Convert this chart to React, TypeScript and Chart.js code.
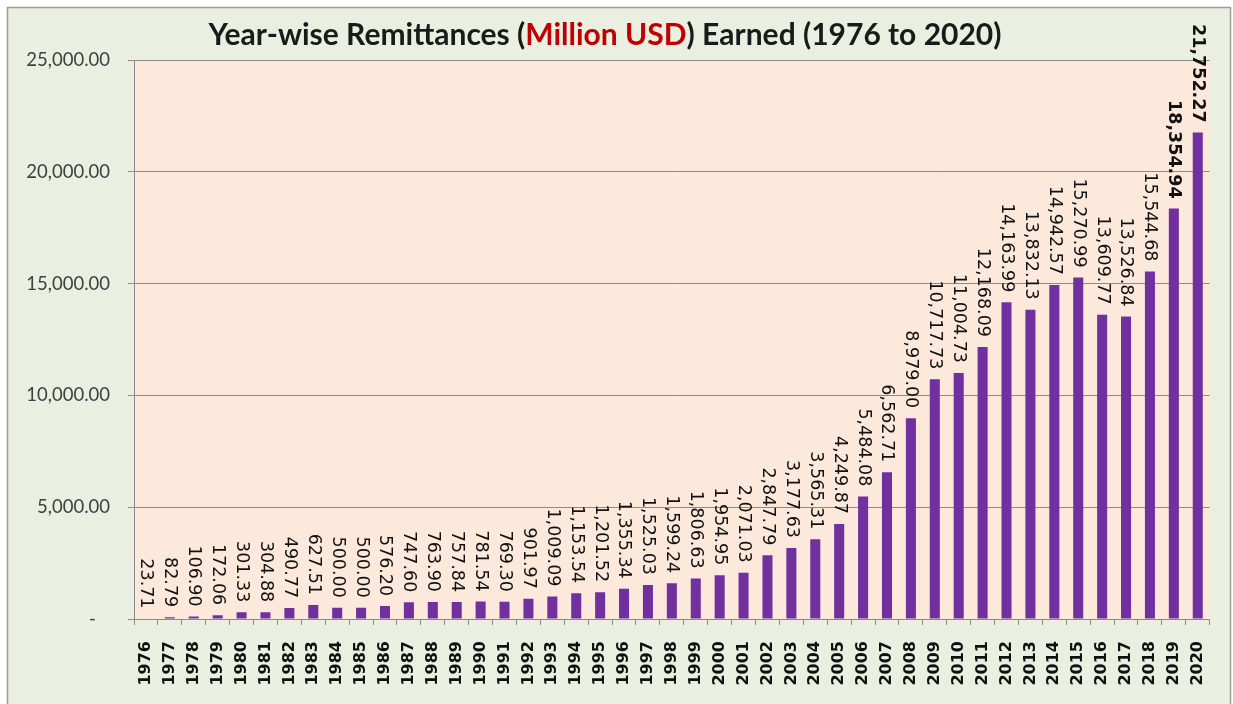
import { useEffect, useRef } from "react";
import { Chart, registerables } from "chart.js";

Chart.register(...registerables);

// Year-wise remittances earned, million USD
const years = [
  "1976", "1977", "1978", "1979", "1980", "1981", "1982", "1983", "1984", "1985",
  "1986", "1987", "1988", "1989", "1990", "1991", "1992", "1993", "1994", "1995",
  "1996", "1997", "1998", "1999", "2000", "2001", "2002", "2003", "2004", "2005",
  "2006", "2007", "2008", "2009", "2010", "2011", "2012", "2013", "2014", "2015",
  "2016", "2017", "2018", "2019", "2020",
];

const remittances = [
  23.71, 82.79, 106.9, 172.06, 301.33, 304.88, 490.77, 627.51, 500.0, 500.0,
  576.2, 747.6, 763.9, 757.84, 781.54, 769.3, 901.97, 1009.09, 1153.54, 1201.52,
  1355.34, 1525.03, 1599.24, 1806.63, 1954.95, 2071.03, 2847.79, 3177.63, 3565.31, 4249.87,
  5484.08, 6562.71, 8979.0, 10717.73, 11004.73, 12168.09, 14163.99, 13832.13, 14942.57, 15270.99,
  13609.77, 13526.84, 15544.68, 18354.94, 21752.27,
];

// Years whose value labels are set in bold
const boldYears = ["2019", "2020"];

const yMin = 0;
const yMax = 25000;
const yStep = 5000;

const titleParts = [
  { text: "Year-wise Remittances (", color: "#1a1a1a" },
  { text: "Million USD", color: "#C00000" },
  { text: ") Earned (1976 to 2020)", color: "#1a1a1a" },
];

const W = 1233;
const H = 704;

const money = new Intl.NumberFormat("en-US", {
  minimumFractionDigits: 2,
  maximumFractionDigits: 2,
});

const framePlugin = {
  id: "frame",
  beforeDraw(chart: any) {
    const { ctx, chartArea: a } = chart;
    ctx.save();
    ctx.fillStyle = "#ffffff";
    ctx.fillRect(0, 0, W, H);
    ctx.fillStyle = "#EBEFE1";
    ctx.fillRect(7, 7, 1224, 720);
    ctx.strokeStyle = "#9c9c9c";
    ctx.lineWidth = 1.5;
    ctx.strokeRect(7.5, 7.5, 1223, 730);
    ctx.fillStyle = "#FCE9DB";
    ctx.fillRect(a.left, a.top, a.right - a.left, a.bottom - a.top);

    // title, centred over the frame, with the unit in red
    ctx.font = 'bold 30px "Lato"';
    ctx.textBaseline = "alphabetic";
    ctx.textAlign = "left";
    const total = titleParts.reduce((s, p) => s + ctx.measureText(p.text).width, 0);
    let x = 605 - total / 2;
    for (const p of titleParts) {
      ctx.fillStyle = p.color;
      ctx.fillText(p.text, x, 45);
      x += ctx.measureText(p.text).width;
    }
    ctx.restore();
  },
};

const valueLabelPlugin = {
  id: "valueLabels",
  afterDatasetsDraw(chart: any) {
    const { ctx } = chart;
    const meta = chart.getDatasetMeta(0);
    meta.data.forEach((bar: any, i: number) => {
      const bold = boldYears.includes(years[i]);
      ctx.save();
      ctx.translate(bar.x, bar.y - 10);
      ctx.rotate(Math.PI / 2);
      ctx.font = `${bold ? "bold " : ""}17.5px "DejaVu Sans"`;
      ctx.fillStyle = "#111111";
      ctx.textAlign = "right";
      ctx.textBaseline = "middle";
      ctx.fillText(money.format(remittances[i]), 0, 0);
      ctx.restore();
    });
  },
};

export default function App() {
  const canvasRef = useRef<HTMLCanvasElement | null>(null);

  useEffect(() => {
    const canvas = canvasRef.current;
    if (!canvas) return;
    const chart = new Chart(canvas, {
      type: "bar",
      data: {
        labels: years,
        datasets: [
          {
            data: remittances,
            backgroundColor: "#7030A0",
            borderWidth: 0,
            categoryPercentage: 1,
            barPercentage: 0.42,
          },
        ],
      },
      options: {
        responsive: false,
        animation: false,
        devicePixelRatio: 1,
        layout: { padding: { top: 60, right: 4, left: 0, bottom: 0 } },
        plugins: {
          legend: { display: false },
          tooltip: { enabled: false },
          title: { display: false },
        },
        scales: {
          x: {
            grid: {
              offset: true,
              drawOnChartArea: false,
              tickLength: 6,
              color: "#8a8a8a",
            },
            border: { color: "#8a8a8a" },
            ticks: {
              autoSkip: false,
              minRotation: 90,
              maxRotation: 90,
              padding: 16,
              color: "#111111",
              font: { family: "DejaVu Sans", size: 16, weight: "bold" },
            },
            afterFit(scale: any) {
              scale.height = 85;
            },
          },
          y: {
            min: yMin,
            max: yMax,
            ticks: {
              stepSize: yStep,
              padding: 18,
              color: "#404040",
              font: { family: "Lato", size: 18.5 },
              callback: (v: any) => (Number(v) === 0 ? "-   " : money.format(Number(v))),
            },
            grid: { color: "#8a8a8a", tickLength: 6 },
            border: { color: "#8a8a8a" },
            afterFit(scale: any) {
              scale.width = 134;
            },
          },
        },
      },
      plugins: [framePlugin, valueLabelPlugin],
    });
    return () => chart.destroy();
  }, []);

  return (
    <div style={{ position: "absolute", left: 0, top: 0, width: W, height: H }}>
      <canvas ref={canvasRef} width={W} height={H} style={{ display: "block" }} />
    </div>
  );
}
